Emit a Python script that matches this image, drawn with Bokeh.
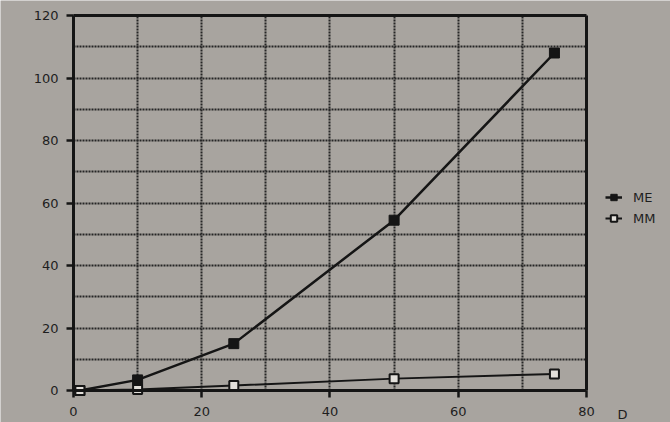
from bokeh.plotting import figure
from bokeh.models import FixedTicker, Legend, LegendItem, Label, Range1d, LinearAxis, Grid
from bokeh.embed import file_html
from bokeh.resources import INLINE

# data
d_values = [1, 10, 25, 50, 75]
me_values = [0, 3.4, 15, 54.5, 108]
mm_values = [0, 0.3, 1.6, 3.8, 5.3]
series_names = ["ME", "MM"]
x_tick_labels = [0, 20, 40, 60, 80]
y_tick_labels = [0, 20, 40, 60, 80, 100, 120]
grid_x = [10, 20, 30, 40, 50, 60, 70]
grid_y = [10, 20, 30, 40, 50, 60, 70, 80, 90, 100, 110]
x_name = "D"

BG = "#a8a49f"
INK = "#151515"
TXT = "#1e1e1e"
FONT = "DejaVu Sans"

X_MAX, Y_MAX = 80, 120

p = figure(width=670, height=422, output_backend="svg", toolbar_location=None,
           x_range=Range1d(-11.38, 93.1), y_range=Range1d(-10.24, 124.8),
           x_axis_location=None, y_axis_location=None,
           min_border_left=0, min_border_top=0, min_border_right=0, min_border_bottom=0)
p.background_fill_color = BG
p.border_fill_color = BG
p.outline_line_color = None

xaxis = LinearAxis(fixed_location=0, bounds=(0, X_MAX), ticker=FixedTicker(ticks=x_tick_labels))
p.add_layout(xaxis, "below")
yaxis = LinearAxis(fixed_location=0, bounds=(0, Y_MAX), ticker=FixedTicker(ticks=y_tick_labels))
p.add_layout(yaxis, "left")

for ax in (xaxis, yaxis):
    ax.axis_line_color = INK
    ax.axis_line_width = 3
    ax.major_tick_line_color = INK
    ax.major_tick_line_width = 2.5
    ax.major_tick_out = 7
    ax.major_tick_in = 0
    ax.minor_tick_line_color = None
    ax.major_label_text_font = FONT
    ax.major_label_text_font_size = "13px"
    ax.major_label_text_color = TXT
xaxis.major_label_standoff = 9
yaxis.major_label_standoff = 8

p.xgrid.ticker = FixedTicker(ticks=grid_x)
p.ygrid.ticker = FixedTicker(ticks=grid_y)
p.xgrid.cross_bounds = (0, Y_MAX)
p.ygrid.cross_bounds = (0, X_MAX)
for g in (p.xgrid, p.ygrid):
    g.grid_line_color = "#262626"
    g.grid_line_width = 2
    g.grid_line_dash = "2 1"

# frame border at the top (y = 120) and right (x = 80) of the data area
top_edge = Grid(dimension=1, ticker=FixedTicker(ticks=[Y_MAX]), cross_bounds=(0, X_MAX),
                grid_line_color=INK, grid_line_width=3)
right_edge = Grid(dimension=0, ticker=FixedTicker(ticks=[X_MAX]), cross_bounds=(0, Y_MAX),
                  grid_line_color=INK, grid_line_width=3)
p.add_layout(top_edge)
p.add_layout(right_edge)

l1 = p.line(d_values, me_values, line_color=INK, line_width=2.5)
s1 = p.scatter(d_values, me_values, marker="square", size=10, fill_color=INK, line_color=INK)
l2 = p.line(d_values, mm_values, line_color=INK, line_width=2)
s2 = p.scatter(d_values, mm_values, marker="square", size=9, fill_color="#e2dfda",
               line_color=INK, line_width=2)

legend = Legend(items=[LegendItem(label=series_names[0], renderers=[l1, s1]),
                       LegendItem(label=series_names[1], renderers=[l2, s2])],
                location=(605, 196), margin=0, padding=2, glyph_width=17, glyph_height=16,
                label_standoff=11, spacing=5, border_line_color=None,
                background_fill_alpha=0,
                label_text_font=FONT, label_text_font_size="13px", label_text_color=TXT)
p.add_layout(legend)

p.add_layout(Label(x=85.6, y=-7.7, text=x_name, text_font=FONT, text_font_size="13px",
                   text_color=TXT, text_baseline="middle", text_align="center"))

open("out.html", "w").write(file_html(p, INLINE))
